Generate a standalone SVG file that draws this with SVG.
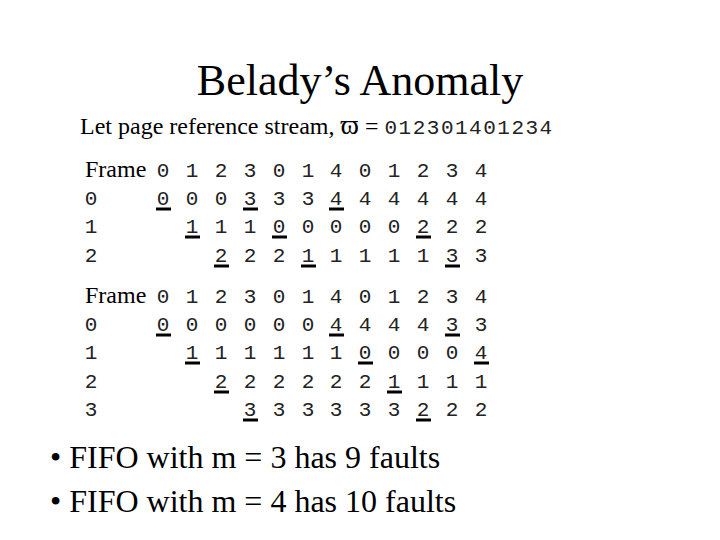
<svg xmlns="http://www.w3.org/2000/svg" width="720" height="540" viewBox="0 0 720 540">
<style>
.s{font-family:"Liberation Serif",serif;fill:#000}
.m{font-family:"Liberation Mono",monospace;font-size:21px;fill:#222;text-anchor:middle}
.u{stroke:#000;stroke-width:3}
</style>
<rect width="720" height="540" fill="#fff"/>
<text class="s" x="360" y="95" font-size="44" text-anchor="middle">Belady’s Anomaly</text>
<text class="s" x="80" y="134" font-size="24">Let page reference stream, <tspan font-size="28">ϖ</tspan> = <tspan font-family="Liberation Mono,monospace" font-size="21" letter-spacing="1.5" fill="#222">012301401234</tspan></text>
<g id="table1">
<text class="s" x="85" y="177" font-size="24">Frame</text>
<text class="m" x="91" y="205">0</text><text class="m" x="91" y="233">1</text><text class="m" x="91" y="262">2</text>
<g id="t1">
<text class="m" y="177"><tspan x="163">0</tspan><tspan x="192">1</tspan><tspan x="221">2</tspan><tspan x="250">3</tspan><tspan x="279">0</tspan><tspan x="308">1</tspan><tspan x="336">4</tspan><tspan x="365">0</tspan><tspan x="394">1</tspan><tspan x="423">2</tspan><tspan x="452">3</tspan><tspan x="481">4</tspan></text>
<text class="m" y="205"><tspan x="163">0</tspan><tspan x="192">0</tspan><tspan x="221">0</tspan><tspan x="250">3</tspan><tspan x="279">3</tspan><tspan x="308">3</tspan><tspan x="336">4</tspan><tspan x="365">4</tspan><tspan x="394">4</tspan><tspan x="423">4</tspan><tspan x="452">4</tspan><tspan x="481">4</tspan></text>
<text class="m" y="233"><tspan x="192">1</tspan><tspan x="221">1</tspan><tspan x="250">1</tspan><tspan x="279">0</tspan><tspan x="308">0</tspan><tspan x="336">0</tspan><tspan x="365">0</tspan><tspan x="394">0</tspan><tspan x="423">2</tspan><tspan x="452">2</tspan><tspan x="481">2</tspan></text>
<text class="m" y="262"><tspan x="221">2</tspan><tspan x="250">2</tspan><tspan x="279">2</tspan><tspan x="308">1</tspan><tspan x="336">1</tspan><tspan x="365">1</tspan><tspan x="394">1</tspan><tspan x="423">1</tspan><tspan x="452">3</tspan><tspan x="481">3</tspan></text>
</g>
<g class="u">
<line x1="156" y1="209" x2="171" y2="209"/><line x1="243" y1="209" x2="258" y2="209"/><line x1="329" y1="209" x2="344" y2="209"/>
<line x1="185" y1="237" x2="200" y2="237"/><line x1="272" y1="237" x2="287" y2="237"/><line x1="416" y1="237" x2="431" y2="237"/>
<line x1="214" y1="266" x2="229" y2="266"/><line x1="301" y1="266" x2="316" y2="266"/><line x1="445" y1="266" x2="460" y2="266"/>
</g>
</g>
<g id="table2">
<text class="s" x="85" y="303" font-size="24">Frame</text>
<text class="m" x="91" y="331">0</text><text class="m" x="91" y="359">1</text><text class="m" x="91" y="388">2</text><text class="m" x="91" y="416">3</text>
<text class="m" y="303"><tspan x="163">0</tspan><tspan x="192">1</tspan><tspan x="221">2</tspan><tspan x="250">3</tspan><tspan x="279">0</tspan><tspan x="308">1</tspan><tspan x="336">4</tspan><tspan x="365">0</tspan><tspan x="394">1</tspan><tspan x="423">2</tspan><tspan x="452">3</tspan><tspan x="481">4</tspan></text>
<text class="m" y="331"><tspan x="163">0</tspan><tspan x="192">0</tspan><tspan x="221">0</tspan><tspan x="250">0</tspan><tspan x="279">0</tspan><tspan x="308">0</tspan><tspan x="336">4</tspan><tspan x="365">4</tspan><tspan x="394">4</tspan><tspan x="423">4</tspan><tspan x="452">3</tspan><tspan x="481">3</tspan></text>
<text class="m" y="359"><tspan x="192">1</tspan><tspan x="221">1</tspan><tspan x="250">1</tspan><tspan x="279">1</tspan><tspan x="308">1</tspan><tspan x="336">1</tspan><tspan x="365">0</tspan><tspan x="394">0</tspan><tspan x="423">0</tspan><tspan x="452">0</tspan><tspan x="481">4</tspan></text>
<text class="m" y="388"><tspan x="221">2</tspan><tspan x="250">2</tspan><tspan x="279">2</tspan><tspan x="308">2</tspan><tspan x="336">2</tspan><tspan x="365">2</tspan><tspan x="394">1</tspan><tspan x="423">1</tspan><tspan x="452">1</tspan><tspan x="481">1</tspan></text>
<text class="m" y="416"><tspan x="250">3</tspan><tspan x="279">3</tspan><tspan x="308">3</tspan><tspan x="336">3</tspan><tspan x="365">3</tspan><tspan x="394">3</tspan><tspan x="423">2</tspan><tspan x="452">2</tspan><tspan x="481">2</tspan></text>
<g class="u">
<line x1="156" y1="335" x2="171" y2="335"/><line x1="329" y1="335" x2="344" y2="335"/><line x1="445" y1="335" x2="460" y2="335"/>
<line x1="185" y1="363" x2="200" y2="363"/><line x1="358" y1="363" x2="373" y2="363"/><line x1="474" y1="363" x2="489" y2="363"/>
<line x1="214" y1="392" x2="229" y2="392"/><line x1="387" y1="392" x2="402" y2="392"/>
<line x1="243" y1="420" x2="258" y2="420"/><line x1="416" y1="420" x2="431" y2="420"/>
</g>
</g>
<text class="s" x="50" y="468" font-size="32">• FIFO with m = 3 has 9 faults</text>
<text class="s" x="50" y="512" font-size="32">• FIFO with m = 4 has 10 faults</text>
</svg>
